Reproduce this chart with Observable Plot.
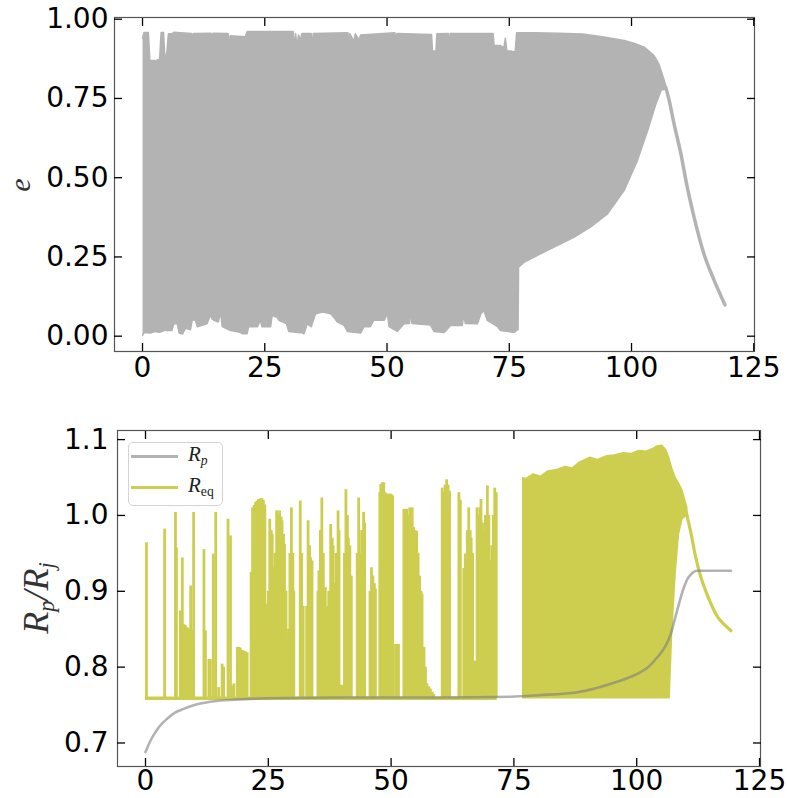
<!DOCTYPE html>
<html>
<head>
<meta charset="utf-8">
<script src="https://cdn.jsdelivr.net/npm/d3@7"></script>
<script src="https://cdn.jsdelivr.net/npm/@observablehq/plot@0.6"></script>
<style>
  html, body { margin: 0; padding: 0; background: #fff; }
  #root { position: relative; width: 787px; height: 798px; overflow: hidden; font-family: "DejaVu Sans", sans-serif; }
  #root svg.panel { position: absolute; left: 0; }
  .ylab { position: absolute; transform: translate(-50%, -50%) rotate(-90deg); font-family: "Liberation Serif", serif; font-style: italic; white-space: nowrap; color: #333; line-height: 1; }
  .ylab sub { font-size: 62%; vertical-align: -0.25em; }
  #legend { position: absolute; left: 128px; top: 442px; width: 95px; height: 64px; box-sizing: border-box; border: 1px solid #d4d4d4; border-radius: 5px; background: rgba(255,255,255,0.85); }
  #legend .item { position: absolute; left: 2px; height: 24px; display: flex; align-items: center; }
  #legend .swatch { width: 47px; height: 3px; }
  #legend .lab { margin-left: 10px; font-family: "Liberation Serif", serif; font-style: italic; font-size: 21px; color: #222; line-height: 1; }
  #legend .lab sub { font-size: 65%; vertical-align: -0.3em; }
  #legend .lab sub.rm { font-style: normal; }
</style>
</head>
<body>
<div id="root"></div>
<script>
// ---------------- data ----------------
const xTicks = [0, 25, 50, 75, 100, 125];
const eTicks = [0, 0.25, 0.5, 0.75, 1.0];
const rTicks = [0.7, 0.8, 0.9, 1.0, 1.1];

// top panel: envelope of the eccentricity oscillation (upper edge)
const eUpperT = [0, 0.3, 1.2, 1.5, 2.5, 2.66, 2.8, 3.5, 3.8, 4.3, 4.6, 5.0, 5.3, 6.0, 6.4, 10.0, 10.2, 10.4, 14.0, 14.2,
  14.4, 17.5, 17.7, 17.9, 21.0, 21.4, 30.8, 31.0, 31.3, 31.6, 31.9, 32.3, 32.6, 34.5, 34.7, 34.9, 42.0, 42.2, 42.4, 43.2,
  43.5, 44.3, 44.6, 51.6, 51.8, 52.0, 59.1, 59.3, 60.0, 60.2, 62.5, 62.7, 62.9, 71.7, 71.9, 73.2, 73.9, 74.2, 74.5, 75.3,
  76.2, 76.5, 80, 85, 90, 94, 98.5, 100.5, 102.6, 104.6, 105.6, 106.7, 107.0];
const eUpperV = [0.94, 0.958, 0.958, 0.87, 0.87, 0.822, 0.87, 0.875, 0.958, 0.958, 0.864, 0.90, 0.954, 0.954, 0.959, 0.955, 0.935, 0.955, 0.956, 0.94,
  0.956, 0.955, 0.891, 0.948, 0.945, 0.961, 0.961, 0.91, 0.955, 0.915, 0.95, 0.935, 0.955, 0.955, 0.891, 0.955, 0.957, 0.912, 0.955, 0.93,
  0.954, 0.935, 0.95, 0.957, 0.93, 0.955, 0.952, 0.90, 0.90, 0.954, 0.955, 0.905, 0.955, 0.955, 0.917, 0.917, 0.91, 0.94, 0.90, 0.90,
  0.896, 0.957, 0.957, 0.956, 0.953, 0.945, 0.933, 0.924, 0.912, 0.885, 0.859, 0.807, 0.79];
// lower edge
const eLowerT = [0, 0.3, 1.6, 2.5, 3.5, 4.4, 6.0, 6.4, 7.1, 7.5, 8.2, 8.8, 9.8, 10.2, 10.8, 11.2, 13.2, 13.7, 13.9, 14.2,
  14.6, 15.5, 15.96, 16.3, 18.0, 20.0, 20.4, 21.4, 21.7, 23.5, 24.1, 24.4, 26.2, 26.5, 27.5, 27.9, 29.4, 29.9, 32.8, 33.0,
  33.7, 34.5, 35.4, 36.8, 38.5, 39.1, 39.8, 41.2, 41.9, 44.6, 45.3, 46.6, 47.3, 49.4, 50.1, 50.4, 52.1, 53.5, 54.6, 54.8,
  55.1, 58.9, 59.6, 61.7, 63.0, 65.4, 65.7, 66.0, 68.5, 69.2, 69.8, 70.5, 72.6, 73.2, 76.0, 76.6, 76.8, 76.9, 78.0, 81.4,
  84.8, 88.2, 91.6, 95.1, 98.5, 101.2, 103.3, 105.0, 106.1, 107.0];
const eLowerV = [0.002, 0.012, 0.01, 0.015, 0.012, 0.018, 0.018, 0.039, 0.039, 0.01, 0.007, 0.025, 0.02, 0.052, 0.05, 0.03, 0.039, 0.06, 0.065, 0.055,
  0.05, 0.045, 0.076, 0.03, 0.018, 0.012, 0.008, 0.008, 0.03, 0.03, 0.05, 0.03, 0.03, 0.065, 0.06, 0.05, 0.04, 0.015, 0.01, 0.007,
  0.039, 0.03, 0.071, 0.076, 0.071, 0.06, 0.045, 0.034, 0.015, 0.01, 0.03, 0.03, 0.05, 0.05, 0.071, 0.03, 0.015, 0.039, 0.04, 0.081,
  0.04, 0.035, 0.015, 0.012, 0.034, 0.034, 0.071, 0.04, 0.039, 0.071, 0.081, 0.05, 0.03, 0.018, 0.012, 0.02, 0.02, 0.218, 0.233, 0.26,
  0.286, 0.312, 0.344, 0.386, 0.46, 0.554, 0.649, 0.733, 0.777, 0.78];
// single decaying track after the oscillation stops
const eTailT = [107.0, 107.7, 108.7, 110.1, 111.4, 112.8, 114.8, 116.9, 119.1];
const eTailV = [0.785, 0.744, 0.670, 0.575, 0.47, 0.375, 0.26, 0.176, 0.099];

// bottom panel: R_p
const rpT = [0, 1, 2, 3, 4.4, 6, 7.8, 9.5, 11.2, 14, 18, 24.8, 40, 60, 74.3, 80, 87.9, 91, 94.7, 97.5,
  100.1, 102.5, 104.2, 105.7, 106.9, 108.2, 109.6, 110.5, 111, 112.3, 115, 119.2];
const rpV = [0.688, 0.703, 0.714, 0.723, 0.732, 0.740, 0.745, 0.749, 0.752, 0.755, 0.757, 0.759, 0.760, 0.760, 0.761, 0.763, 0.767, 0.771, 0.778, 0.784,
  0.791, 0.801, 0.813, 0.826, 0.843, 0.874, 0.905, 0.918, 0.922, 0.927, 0.927, 0.927];

// R_eq: baseline level and spikes (t, peak)
const reqBase = 0.759;
const reqBaseStart = 0;
const reqBaseEnd = 71.6;
const reqSpikeT = [
  0.2, 3.9, 6.1, 6.3, 7.1, 7.5, 7.8, 8.1, 8.5, 8.8, 9.2, 9.5, 9.8, 11.9, 12.2, 12.9, 13.2, 13.8, 14.3, 14.9, 15.6, 15.9, 16.8, 17.3, 17.7, 18.0, 18.7, 19.0, 19.3, 19.7, 20.0, 20.4, 20.7,
  21.5, 21.8, 22.1, 22.4, 22.7, 23.0, 23.4, 23.7, 24.0, 24.3, 24.6,
  25.0, 25.3, 25.6, 25.8, 26.1, 26.4, 26.7, 27.0, 27.3, 27.6, 27.8, 28.1, 28.3, 28.6, 28.8, 29.1, 29.4, 29.7, 30.0, 30.2,
  31.5, 31.8, 32.1, 32.8, 33.1, 33.4, 33.6, 33.9,
  35.1, 35.3, 35.6, 35.9, 36.2, 36.6, 36.9, 37.3, 37.7, 38.0, 38.2, 38.5, 38.8, 39.2, 39.4, 39.8, 40.1,
  40.5, 40.8, 41.1, 41.3, 41.6, 41.9,
  43.1, 43.4, 43.7, 44.0, 44.4, 44.6,
  45.7, 46.0, 46.3, 46.6, 46.8,
  47.7, 47.9, 48.2, 48.5, 48.8, 49.1, 49.4, 49.7, 50.0, 50.3,
  50.9, 51.2, 51.5,
  52.6, 52.9, 53.2, 53.5, 53.8, 54.1, 54.3, 54.6, 54.9, 55.2, 55.5, 55.8, 56.1, 56.3, 56.7, 57.0, 57.3, 57.7, 58.0, 58.4, 58.7,
  60.4, 60.7, 61.0, 61.3, 61.6, 61.9,
  63.8, 64.1,
  64.8, 65.1, 65.5, 65.8, 66.1, 66.3, 66.6,
  67.0, 67.5, 67.8, 68.1, 68.3, 68.6, 68.9, 69.2, 69.6, 69.9, 70.2, 70.5, 70.8, 71.1, 71.4];
const reqSpikeV = [
  0.964, 0.982, 1.004, 0.957, 0.874, 0.944, 0.856, 0.855, 0.852, 0.850, 0.907, 0.848, 1.004, 0.955, 0.848, 0.810, 0.810, 0.949, 1.004, 0.773, 0.804, 0.800, 0.995, 0.973, 0.775, 0.778, 0.826, 0.826, 0.825, 0.822, 0.821, 0.820, 0.819,
  0.925, 1.010, 1.013, 1.017, 1.019, 1.021, 1.022, 1.022, 1.020, 1.014, 0.883,
  0.900, 0.995, 0.980, 0.975, 0.931, 0.950, 1.006, 1.000, 1.006, 0.998, 0.993, 0.975, 0.962, 0.900, 0.839, 0.850, 0.950, 1.010, 0.950, 0.900,
  1.019, 0.950, 0.880, 0.880, 0.993, 0.960, 0.944, 0.940,
  0.900, 0.927, 0.980, 1.023, 0.950, 0.905, 0.880, 0.900, 0.988, 0.970, 0.960, 0.910, 0.950, 1.006, 0.980, 0.776, 0.776,
  0.950, 1.034, 1.000, 0.970, 0.960, 0.920,
  0.950, 1.023, 0.950, 0.980, 1.004, 0.990,
  0.900, 0.931, 0.920, 0.910, 0.903,
  1.030, 1.041, 1.043, 1.043, 1.030, 1.028, 1.028, 1.028, 1.028, 1.026,
  0.830, 0.830, 0.830,
  1.008, 1.008, 1.008, 1.000, 1.010, 1.000, 1.010, 0.984, 0.980, 0.979, 0.950, 0.920, 0.900, 0.896, 0.826, 0.800, 0.778, 0.774, 0.771, 0.767, 0.764,
  1.036, 1.030, 1.040, 1.047, 1.040, 1.032,
  1.030, 1.020,
  0.930, 0.949, 0.980, 1.010, 0.980, 0.970, 0.950,
  0.808, 1.010, 1.000, 1.010, 1.021, 0.990, 0.980, 1.000, 1.039, 1.000, 0.940, 0.960, 1.000, 1.036, 1.030];
// R_eq dense oscillation band after t ~ 77
const reqBandT = [76.9, 77.5, 79.0, 80.5, 82.0, 83.8, 85.5, 87.0, 88.5, 90.6, 92.0, 94.0, 95.5, 97.4, 99.0, 100.5, 102.0, 103.5, 104.2, 105.2,
  106.0, 106.5, 106.7, 107.2, 107.9, 108.6, 109.3, 110.3];
const reqBandHigh = [1.049, 1.048, 1.054, 1.051, 1.058, 1.060, 1.064, 1.062, 1.070, 1.076, 1.073, 1.078, 1.079, 1.082, 1.081, 1.085, 1.084, 1.088, 1.091, 1.092,
  1.086, 1.078, 1.074, 1.062, 1.050, 1.042, 1.033, 1.010];
const reqBandLow = [0.759, 0.759, 0.759, 0.759, 0.759, 0.759, 0.759, 0.759, 0.759, 0.759, 0.759, 0.759, 0.759, 0.759, 0.759, 0.759, 0.759, 0.759, 0.759, 0.759,
  0.759, 0.759, 0.759, 0.843, 0.922, 0.975, 0.995, 1.000];
const reqTailT = [110.0, 111.0, 112.0, 113.0, 114.5, 116.5, 118.0, 119.2];
const reqTailV = [1.006, 0.978, 0.945, 0.920, 0.893, 0.866, 0.855, 0.848];

const legendNames = ["R_p", "R_eq"];

// ---------------- styling ----------------
const grayFill = "#b3b3b3";
const olive = "#cdce50";
const rpColor = "#7f7f7f";
const frameColor = "#555";
const tickFont = 28;

// ---------------- tables ----------------
const ePoly = eUpperT.map((t, i) => ({t, v: eUpperV[i]}))
  .concat(eLowerT.map((t, i) => ({t, v: eLowerV[i]})).reverse());
const eTail = eTailT.map((t, i) => ({t, v: eTailV[i]}));
const rp = rpT.map((t, i) => ({t, v: rpV[i]}));
const reqSpikes = reqSpikeT.map((t, i) => ({t, v: reqSpikeV[i]}));
const reqBand = reqBandT.map((t, i) => ({t, lo: reqBandLow[i], hi: reqBandHigh[i]}));
const reqTail = reqTailT.map((t, i) => ({t, v: reqTailV[i]}));

function axes(yTicks, yFmt, padX, padY) {
  return [
    Plot.axisX({ticks: xTicks, anchor: "bottom", tickSize: 0, tickPadding: padX, tickFormat: d3.format("d"), fontSize: tickFont, label: null}),
    Plot.axisY({ticks: yTicks, anchor: "left", tickSize: 0, tickPadding: padY, tickFormat: yFmt, fontSize: tickFont, label: null}),
    Plot.axisX({ticks: xTicks, anchor: "bottom", tickSize: 8, dy: -8, fill: "none", label: null, stroke: "#000", strokeWidth: 1.3}),
    Plot.axisX({ticks: xTicks, anchor: "top", tickSize: 8, dy: 8, fill: "none", label: null, stroke: "#000", strokeWidth: 1.3}),
    Plot.axisY({ticks: yTicks, anchor: "left", tickSize: 8, dx: 8, fill: "none", label: null, stroke: "#000", strokeWidth: 1.3}),
    Plot.axisY({ticks: yTicks, anchor: "right", tickSize: 8, dx: -8, fill: "none", label: null, stroke: "#000", strokeWidth: 1.3})
  ];
}

const styleObj = {fontFamily: "'DejaVu Sans', sans-serif", fontSize: tickFont + "px", color: "#000", background: "transparent", overflow: "visible"};

const topPlot = Plot.plot({
  width: 787, height: 395,
  marginLeft: 114, marginRight: 33, marginTop: 17, marginBottom: 44,
  x: {domain: [-5.73, 125.15]},
  y: {domain: [-0.0483, 1.0054]},
  style: styleObj,
  marks: [
    Plot.line(ePoly, {x: "t", y: "v", fill: grayFill, stroke: grayFill, strokeWidth: 1.5, curve: "linear"}),
    Plot.line(eTail, {x: "t", y: "v", stroke: grayFill, strokeWidth: 3.5, curve: "monotone-x"}),
    Plot.frame({stroke: frameColor, strokeWidth: 1.2}),
    ...axes(eTicks, d3.format(".2f"), 6, 6)
  ]
});

const botPlot = Plot.plot({
  width: 787, height: 403,
  marginLeft: 117, marginRight: 27, marginTop: 35, marginBottom: 32,
  x: {domain: [-5.7, 125.2]},
  y: {domain: [0.669, 1.112]},
  style: styleObj,
  marks: [
    Plot.ruleY([reqBase], {x1: () => reqBaseStart, x2: () => reqBaseEnd, y: d => d, stroke: olive, strokeWidth: 3.5}),
    Plot.ruleX(reqSpikes, {x: "t", y1: () => reqBase, y2: "v", stroke: olive, strokeWidth: 2.8}),
    Plot.areaY(reqBand, {x: "t", y1: "lo", y2: "hi", fill: olive, stroke: olive, strokeWidth: 1.5}),
    Plot.line(reqTail, {x: "t", y: "v", stroke: olive, strokeWidth: 3.2, curve: "monotone-x"}),
    Plot.line(rp, {x: "t", y: "v", stroke: rpColor, strokeOpacity: 0.6, strokeWidth: 2.6, curve: "monotone-x"}),
    Plot.frame({stroke: frameColor, strokeWidth: 1.2}),
    ...axes(rTicks, d3.format(".1f"), 4, 9)
  ]
});

const root = document.getElementById("root");
topPlot.classList.add("panel");
botPlot.classList.add("panel");
topPlot.style.top = "0px";
botPlot.style.top = "395px";
root.appendChild(topPlot);
root.appendChild(botPlot);

// y-axis titles
const eLab = document.createElement("div");
eLab.className = "ylab";
eLab.style.left = "20px"; eLab.style.top = "185px"; eLab.style.fontSize = "30px";
eLab.textContent = "e";
root.appendChild(eLab);

const rLab = document.createElement("div");
rLab.className = "ylab";
rLab.style.left = "38px"; rLab.style.top = "598px"; rLab.style.fontSize = "36px";
rLab.innerHTML = "R<sub>p</sub>/R<sub>j</sub>";
root.appendChild(rLab);

// legend
const legend = document.createElement("div");
legend.id = "legend";
const legendColors = ["#b2b2b2", olive];
legendNames.forEach((name, i) => {
  const [base, sub] = name.split("_");
  const item = document.createElement("div");
  item.className = "item";
  item.style.top = (i === 0 ? 1 : 32) + "px";
  const sw = document.createElement("div");
  sw.className = "swatch";
  sw.style.background = legendColors[i];
  const lab = document.createElement("span");
  lab.className = "lab";
  lab.innerHTML = base + "<sub" + (sub.length > 1 ? " class='rm'" : "") + ">" + sub + "</sub>";
  item.appendChild(sw); item.appendChild(lab);
  legend.appendChild(item);
});
root.appendChild(legend);
</script>
</body>
</html>
